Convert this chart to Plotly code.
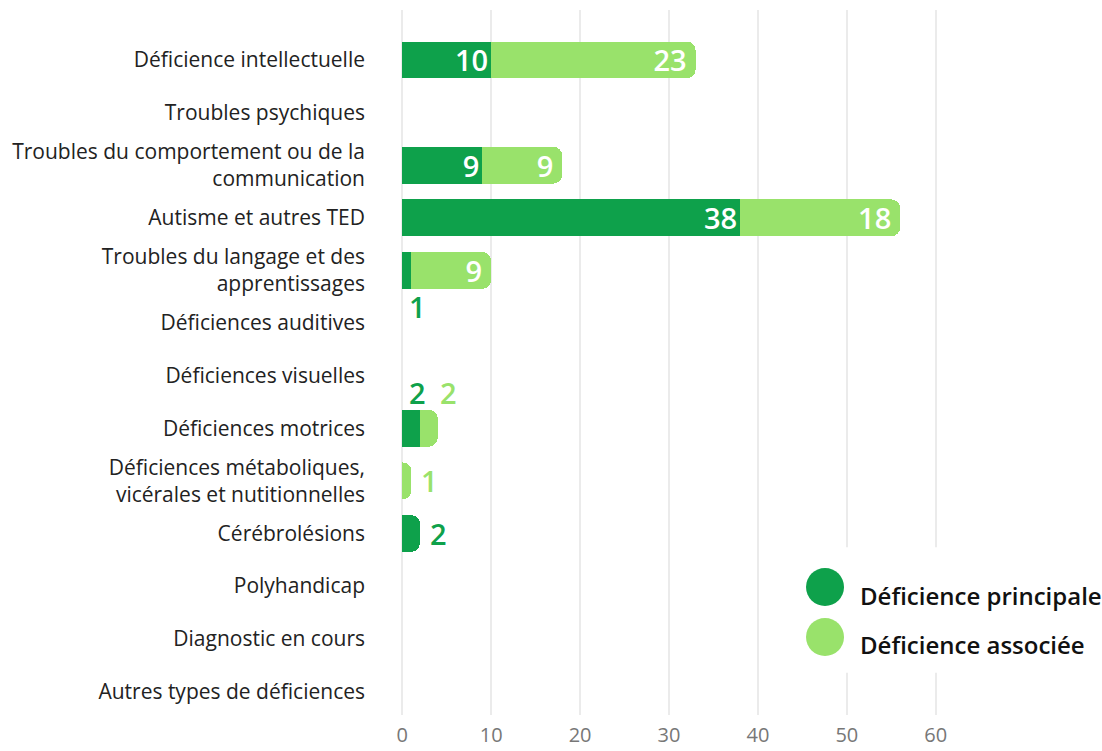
import plotly.graph_objects as go

categories = [
    "Déficience intellectuelle",
    "Troubles psychiques",
    "Troubles du comportement ou de la<br>communication",
    "Autisme et autres TED",
    "Troubles du langage et des<br>apprentissages",
    "Déficiences auditives",
    "Déficiences visuelles",
    "Déficiences motrices",
    "Déficiences métaboliques,<br>vicérales et nutitionnelles",
    "Cérébrolésions",
    "Polyhandicap",
    "Diagnostic en cours",
    "Autres types de déficiences",
]
principale = [10, 0, 9, 38, 1, 0, 0, 2, 0, 2, 0, 0, 0]
associee = [23, 0, 9, 18, 9, 0, 0, 2, 1, 0, 0, 0, 0]
series_names = ["Déficience principale", "Déficience associée"]
x_ticks = [0, 10, 20, 30, 40, 50, 60]

DARK = "#0ea14b"
LIGHT = "#99e26b"
FONT = "Open Sans"
INSIDE_MIN = 5

fig = go.Figure()
for name, vals, color in [(series_names[0], principale, DARK), (series_names[1], associee, LIGHT)]:
    fig.add_trace(go.Bar(
        name=name, y=categories, x=vals, orientation="h",
        marker=dict(color=color, line=dict(width=0)),
        text=[str(v) if v >= INSIDE_MIN else "" for v in vals],
        textposition="inside", insidetextanchor="end", textangle=0, constraintext="none",
        textfont=dict(family=FONT, size=29, color="white", weight=600),
        showlegend=False, hoverinfo="x+y",
    ))

# small value labels placed outside the bars
placement = {  # (category index, series) -> (where, xshift)
    (4, 0): ("below", 6),
    (7, 0): ("above", -3),
    (7, 1): ("above", 11),
    (8, 1): ("right", 8),
    (9, 0): ("right", 8),
}
for i in range(len(categories)):
    for s, (vals, color) in enumerate([(principale, DARK), (associee, LIGHT)]):
        v = vals[i]
        if v <= 0 or v >= INSIDE_MIN:
            continue
        end = principale[i] + (associee[i] if s == 1 else 0)
        where, xs = placement.get((i, s), ("right", 8))
        ann = dict(x=end, y=categories[i], text=str(v), showarrow=False,
                   font=dict(family=FONT, size=29, color=color, weight=600),
                   xshift=xs)
        if where == "right":
            ann.update(xanchor="left", yanchor="middle")
        elif where == "below":
            ann.update(xanchor="center", yanchor="middle", yshift=-36)
        else:
            ann.update(xanchor="center", yanchor="middle", yshift=36)
        fig.add_annotation(**ann)

# custom legend (large circles)
shapes = [dict(type="rect", xref="paper", yref="paper", x0=0.736, x1=1.32, y0=0.06, y1=0.238,
               fillcolor="white", line=dict(width=0), layer="above")]
leg_y = [(0.1816, 0.170), (0.1106, 0.0993)]
for (cy, ty), name, color in zip(leg_y, series_names, [DARK, LIGHT]):
    shapes.append(dict(type="circle", xref="paper", yref="paper", xsizemode="pixel", ysizemode="pixel",
                       xanchor=0.790, yanchor=cy, x0=-19, x1=19, y0=-19, y1=19,
                       fillcolor=color, line=dict(width=0), layer="above"))
    fig.add_annotation(x=0.852, y=ty, xref="paper", yref="paper", text=name, showarrow=False,
                       xanchor="left", yanchor="middle",
                       font=dict(family=FONT, size=24, color="#111111", weight=600))

fig.update_layout(
    barmode="stack", bargap=0.3, barcornerradius=9,
    width=1102, height=751,
    margin=dict(l=400, r=164, t=10, b=36, autoexpand=False),
    plot_bgcolor="white", paper_bgcolor="white",
    font=dict(family=FONT, color="#222222"),
    uniformtext=dict(minsize=29, mode="show"),
    shapes=shapes,
    xaxis=dict(range=[-0.25, 60.25], tickvals=x_ticks, showgrid=True, gridcolor="#ebebeb", gridwidth=2,
               zeroline=False, showline=False, tickfont=dict(size=20, color="#777777"),
               ticklabelstandoff=6, fixedrange=True, automargin=False),
    yaxis=dict(type="category", categoryorder="array", categoryarray=categories,
               range=[12.45, -0.95], showgrid=False, zeroline=False, showline=False,
               tickfont=dict(size=21, color="#222222"), ticklabelstandoff=34, automargin=False),
)

fig.write_html("out.html", config={"displayModeBar": False},
               post_script="document.body.style.margin='0';")
